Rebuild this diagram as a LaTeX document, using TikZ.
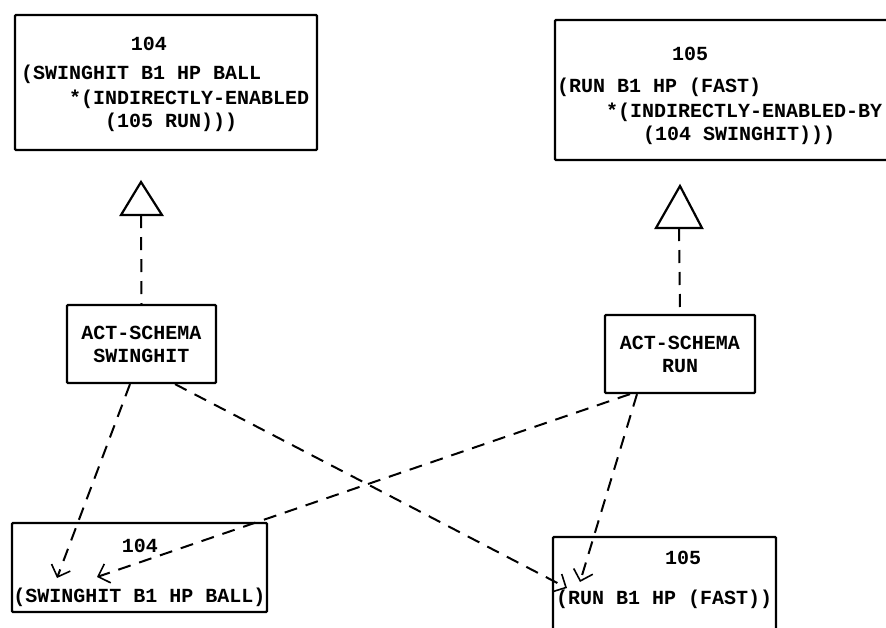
\documentclass[tikz,border=0pt]{standalone}
\usepackage{fontspec}
\setmainfont{Liberation Mono}
\usetikzlibrary{arrows.meta}
\begin{document}
\begin{tikzpicture}[x=1pt,y=-1pt,
  box/.style={draw, line width=2.2pt, inner sep=0pt, rounded corners=1pt},
  txt/.style={inner sep=0pt, font=\bfseries\fontsize{20}{23}\selectfont},
  dep/.style={line width=2pt, dash pattern=on 13pt off 9pt},
  deparrow/.style={dep, -{Straight Barb[length=10pt,width=20pt,line width=1.6pt]}},
  tri/.style={draw, line width=2.2pt, line join=miter, fill=white}]
\useasboundingbox (0,0) rectangle (886,627);
\fill[white] (0,0) rectangle (886,627);

% top boxes
\node[box, minimum width=302pt, minimum height=135pt] (t104) at (166,82.5) {};
\node[txt, anchor=base] (t104n) at (149,50) {104};
\node[txt, anchor=base west] (t104a) at (21,79) {(SWINGHIT B1 HP BALL};
\node[txt, anchor=base west] (t104b) at (69,104) {*(INDIRECTLY-ENABLED};
\node[txt, anchor=base west] (t104c) at (105,127) {(105 RUN)))};

\node[box, minimum width=337pt, minimum height=140pt] (t105) at (723.5,90) {};
\node[txt, anchor=base] (t105n) at (690,60) {105};
\node[txt, anchor=base west] (t105a) at (557,92) {(RUN B1 HP (FAST)};
\node[txt, anchor=base west] (t105b) at (606,117) {*(INDIRECTLY-ENABLED-BY};
\node[txt, anchor=base west] (t105c) at (643,140) {(104 SWINGHIT)))};

% act-schema boxes
\node[box, txt, align=center, minimum width=149pt, minimum height=78pt] (sw) at (141.5,344) {ACT-SCHEMA\\SWINGHIT};
\node[box, txt, align=center, minimum width=150pt, minimum height=78pt] (rn) at (680,354) {ACT-SCHEMA\\RUN};

% triangles
\coordinate (la) at (141,182);
\coordinate (ll) at (121,215);
\coordinate (lr) at (162,215);
\coordinate (lb) at (141,215);
\draw[tri] (la) -- (lr) -- (ll) -- cycle;
\coordinate (ra) at (680,186);
\coordinate (rl) at (656,228);
\coordinate (rr) at (702,228);
\coordinate (rb) at (679,228);
\draw[tri] (ra) -- (rr) -- (rl) -- cycle;
\draw[dep] (lb) -- (sw.north);
\draw[dep] (rb) -- (rn.north);

% bottom boxes
\node[box, minimum width=255pt, minimum height=89pt] (b104) at (139.5,567.5) {};
\node[txt, anchor=base] (b104n) at (140,552) {104};
\node[txt, anchor=base] (b104a) at (139.5,602) {(SWINGHIT B1 HP BALL)};

\node[box, minimum width=223pt, minimum height=96pt] (b105) at (664.5,585) {};
\node[txt, anchor=base] (b105n) at (683,564) {105};
\node[txt, anchor=base west] (b105a) at (556,604) {(RUN B1 HP (FAST))};

% connectors
\coordinate (e1) at (57,578);
\coordinate (e2) at (97,577);
\coordinate (e3) at (567,588);
\coordinate (e4) at (580,582);
\draw[deparrow] ([xshift=-11.5pt]sw.south) -- (e1);
\draw[deparrow] ([xshift=33.5pt]sw.south) -- (e3);
\draw[deparrow] ([xshift=-50pt]rn.south) -- (e2);
\draw[deparrow] ([xshift=-43pt]rn.south) -- (e4);
\end{tikzpicture}
\end{document}
